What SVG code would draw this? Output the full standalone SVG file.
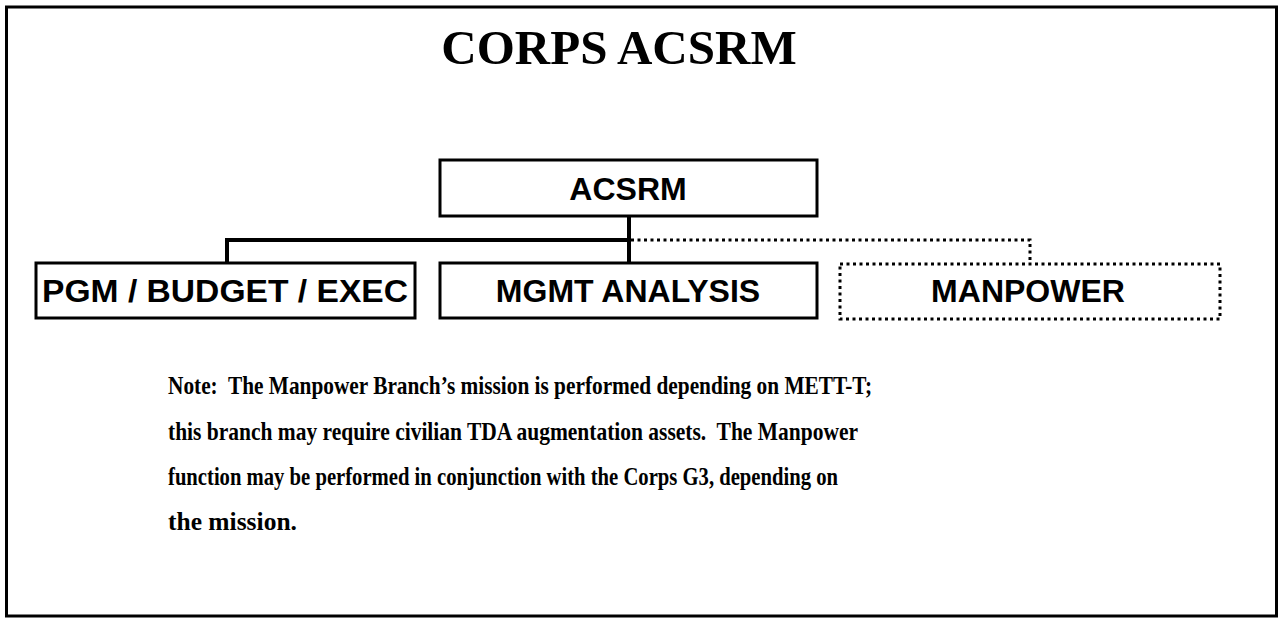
<svg xmlns="http://www.w3.org/2000/svg" width="1282" height="621" viewBox="0 0 1282 621">
<style>
.box{fill:#fff;stroke:#000;stroke-width:3}
.dot{fill:none;stroke:#000;stroke-width:3;stroke-dasharray:3 3.5}
.lbl{font-family:"Liberation Sans",Arial,sans-serif;font-weight:bold;font-size:32px;text-anchor:middle;fill:#000}
.note{font-family:"Liberation Serif","Times New Roman",serif;font-weight:bold;font-size:25.5px;fill:#000}
</style>
<rect x="6.5" y="7" width="1270" height="609" fill="#fff" stroke="#000" stroke-width="3"/>
<text x="619" y="64" font-family="Liberation Serif,'Times New Roman',serif" font-weight="bold" font-size="49" text-anchor="middle">CORPS ACSRM</text>
<g id="connectors">
<path d="M629 216 V263 M227 262 V240 H629" fill="none" stroke="#000" stroke-width="4"/>
<path class="dot" d="M631 240 H1030 V263"/>
</g>
<g id="acsrm">
<rect class="box" x="440" y="160" width="377" height="56"/>
<text class="lbl" x="628" y="200">ACSRM</text>
</g>
<g id="pgm">
<rect class="box" x="36" y="263" width="379" height="55"/>
<text class="lbl" x="225" y="302" textLength="366" lengthAdjust="spacingAndGlyphs">PGM / BUDGET / EXEC</text>
</g>
<g id="mgmt">
<rect class="box" x="440" y="263" width="377" height="55"/>
<text class="lbl" x="628" y="302">MGMT ANALYSIS</text>
</g>
<g id="manpower">
<rect class="dot" x="840" y="264" width="380" height="55"/>
<text class="lbl" x="1028" y="302">MANPOWER</text>
</g>
<g id="note">
<text class="note" x="168" y="394" textLength="704" lengthAdjust="spacingAndGlyphs">Note:&#160; The Manpower Branch’s mission is performed depending on METT-T;</text>
<text class="note" x="168" y="440" textLength="690" lengthAdjust="spacingAndGlyphs">this branch may require civilian TDA augmentation assets.&#160; The Manpower</text>
<text class="note" x="168" y="485" textLength="670" lengthAdjust="spacingAndGlyphs">function may be performed in conjunction with the Corps G3, depending on</text>
<text class="note" x="168" y="530">the mission.</text>
</g>
</svg>
